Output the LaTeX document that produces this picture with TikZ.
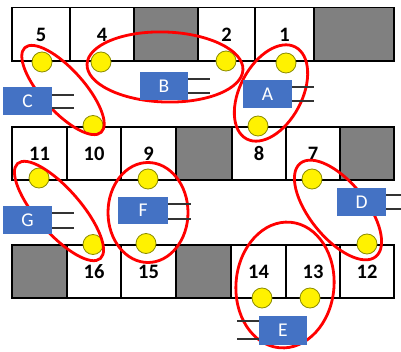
\documentclass[tikz,border=0pt]{standalone}
\usepackage{fontspec}
\setmainfont{Carlito}
\definecolor{tagblue}{HTML}{4472C4}
\definecolor{cellgray}{HTML}{808080}
\definecolor{dotedge}{HTML}{8C8C00}
\definecolor{leadgray}{HTML}{333333}
\begin{document}
\begin{tikzpicture}[x=1pt,y=-1pt,
  cell/.style={draw=black, line width=1.6pt, fill=white},
  graycell/.style={cell, fill=cellgray},
  num/.style={font=\fontsize{20.5}{20.5}\selectfont\bfseries, text=black, inner sep=0},
  dot/.style={circle, fill=yellow, draw=dotedge, line width=0.8pt, minimum size=20pt, inner sep=0},
  ring/.style={draw=red, line width=2.8pt},
  tag/.style={fill=tagblue, text=white, minimum width=49pt, minimum height=28pt, inner sep=0, font=\fontsize{19.5}{19.5}\selectfont},
  lead/.style={draw=leadgray, line width=1.3pt}]
\useasboundingbox (0,0) rectangle (401,352);

% row 1
\draw[cell] (12,7.5) rectangle (70,61);
\draw[cell] (70,7.5) rectangle (134,61);
\draw[graycell] (134,7.5) rectangle (198,61);
\draw[cell] (198,7.5) rectangle (255,61);
\draw[cell] (255,7.5) rectangle (314,61);
\draw[graycell] (314,7.5) rectangle (394,61);
% row 2
\draw[cell] (12,127) rectangle (67,180);
\draw[cell] (67,127) rectangle (121,180);
\draw[cell] (121,127) rectangle (176,180);
\draw[graycell] (176,127) rectangle (232,180);
\draw[cell] (232,127) rectangle (286,180);
\draw[cell] (286,127) rectangle (340,180);
\draw[graycell] (340,127) rectangle (394,180);
% row 3
\draw[graycell] (12,245) rectangle (67,298);
\draw[cell] (67,245) rectangle (121,298);
\draw[cell] (121,245) rectangle (176,298);
\draw[graycell] (176,245) rectangle (231,298);
\draw[cell] (231,245) rectangle (286,298);
\draw[cell] (286,245) rectangle (340,298);
\draw[cell] (340,245) rectangle (394,298);

% numbers
\node[num] (n5) at (41,35) {5};
\node[num] (n4) at (102,35) {4};
\node[num] (n2) at (226.5,35) {2};
\node[num] (n1) at (284.5,35) {1};
\node[num] (n11) at (39.5,154) {11};
\node[num] (n10) at (94,154) {10};
\node[num] (n9) at (148.5,154) {9};
\node[num] (n8) at (259,154) {8};
\node[num] (n7) at (313,154) {7};
\node[num] (n16) at (94,272) {16};
\node[num] (n15) at (148.5,272) {15};
\node[num] (n14) at (258.5,272) {14};
\node[num] (n13) at (313,272) {13};
\node[num] (n12) at (367,272) {12};

% yellow points
\node[dot] (d5) at (42,62) {};
\node[dot] (d4) at (101,62) {};
\node[dot] (d2) at (226,61) {};
\node[dot] (d1) at (286,63) {};
\node[dot] (d10) at (93,125.5) {};
\node[dot] (d8) at (258,126) {};
\node[dot] (d11) at (39,178) {};
\node[dot] (d9) at (148,179) {};
\node[dot] (d7) at (312,179) {};
\node[dot] (d16) at (93,244.5) {};
\node[dot] (d15) at (146,243.5) {};
\node[dot] (d12) at (367,244) {};
\node[dot] (d14) at (262,298) {};
\node[dot] (d13) at (310,298) {};

% red rings
\draw[ring, rotate around={-2:(165,67)}] (165,67) ellipse [x radius=78pt, y radius=35pt];
\draw[ring, rotate around={-48:(63,90)}] (63,90) ellipse [x radius=57pt, y radius=21pt];
\draw[ring, rotate around={62:(271,93)}] (271,93) ellipse [x radius=52pt, y radius=31pt];
\draw[ring, rotate around={-49:(59,211)}] (59,211) ellipse [x radius=63pt, y radius=22pt];
\draw[ring] (148,212.5) ellipse [x radius=40pt, y radius=50pt];
\draw[ring, rotate around={-51:(338,210)}] (338,210) ellipse [x radius=60pt, y radius=28pt];
\draw[ring, rotate around={-5:(285,285)}] (285,285) ellipse [x radius=49pt, y radius=63pt];

% blue tags
\node[tag] (A) at (267.5,94) {A};
\node[tag, minimum width=48pt] (B) at (164,86) {B};
\node[tag] (C) at (27.5,101) {C};
\node[tag] (D) at (361.5,202) {D};
\node[tag, minimum width=48pt, minimum height=29pt] (E) at (283,330.5) {E};
\node[tag, minimum width=50pt, minimum height=27pt] (F) at (143,210.5) {F};
\node[tag] (G) at (27.5,220) {G};

% lead ends
\coordinate (A1) at (314,87);  \coordinate (A2) at (314,101);
\coordinate (B1) at (210,79);  \coordinate (B2) at (210,93);
\coordinate (C1) at (74,95);   \coordinate (C2) at (74,108);
\coordinate (D1) at (401,195); \coordinate (D2) at (401,209);
\coordinate (E1) at (237,321); \coordinate (E2) at (237,339);
\coordinate (F1) at (191,204); \coordinate (F2) at (191,219);
\coordinate (G1) at (74,213);  \coordinate (G2) at (74,228);

\draw[lead] (A.east |- A1) -- (A1);
\draw[lead] (A.east |- A2) -- (A2);
\draw[lead] (B.east |- B1) -- (B1);
\draw[lead] (B.east |- B2) -- (B2);
\draw[lead] (C.east |- C1) -- (C1);
\draw[lead] (C.east |- C2) -- (C2);
\draw[lead] (D.east |- D1) -- (D1);
\draw[lead] (D.east |- D2) -- (D2);
\draw[lead] (E.west |- E1) -- (E1);
\draw[lead] (E.west |- E2) -- (E2);
\draw[lead] (F.east |- F1) -- (F1);
\draw[lead] (F.east |- F2) -- (F2);
\draw[lead] (G.east |- G1) -- (G1);
\draw[lead] (G.east |- G2) -- (G2);
\end{tikzpicture}
\end{document}
